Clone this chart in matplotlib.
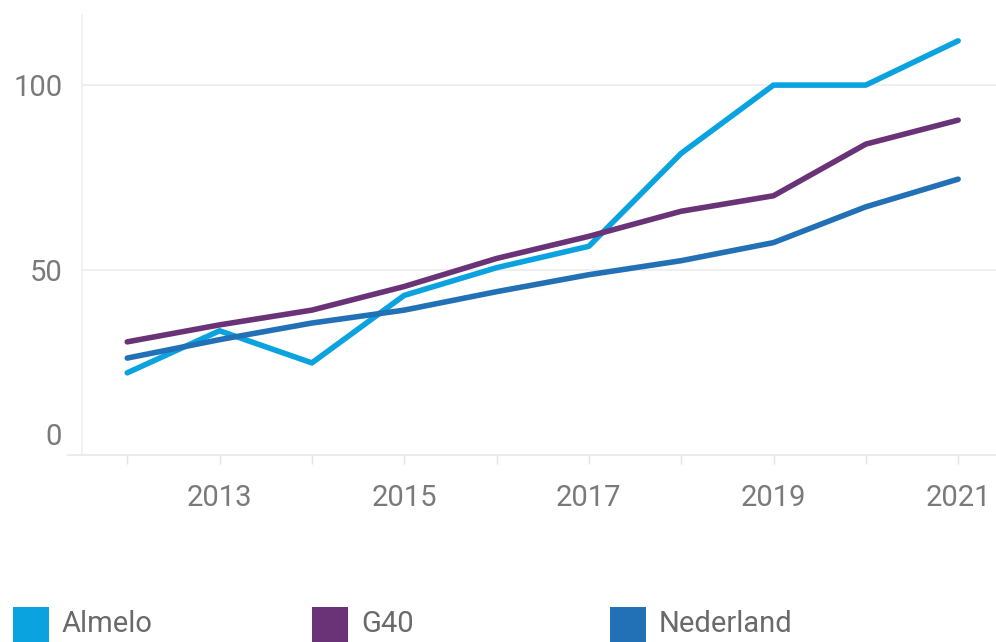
import matplotlib
matplotlib.use("Agg")
import matplotlib.pyplot as plt
from matplotlib.patches import Rectangle
from matplotlib.lines import Line2D

years = [2012, 2013, 2014, 2015, 2016, 2017, 2018, 2019, 2020, 2021]
almelo = [22, 33.4, 24.7, 43, 50.5, 56.3, 81.5, 100, 100, 112]
g40 = [30.4, 35, 39, 45.4, 53, 59, 65.8, 70, 84, 90.5]
nederland = [26, 31, 35.5, 39, 44, 48.6, 52.4, 57.3, 67, 74.5]
series_names = ["Almelo", "G40", "Nederland"]
colors = ["#0aa3e0", "#6a3377", "#2270b5"]
ytick_vals = [50, 100]
xtick_labels = ["2013", "2015", "2017", "2019", "2021"]

plt.rcParams['font.family'] = ['Roboto', 'DejaVu Sans']

W, H = 996, 642
fig = plt.figure(figsize=(W / 100, H / 100), dpi=100)
ax = fig.add_axes([82 / W, 1 - 454 / H, (996 - 82) / W, (454 - 15) / H])

for vals, c in zip([almelo, g40, nederland], colors):
    ax.plot(years, vals, color=c, lw=4.0, solid_capstyle='round', solid_joinstyle='round', zorder=3)

ax.set_xlim(2011.51, 2021.41)
ax.set_ylim(0, 119)

for s in ['top', 'right', 'bottom']:
    ax.spines[s].set_visible(False)
ax.spines['left'].set_color('#f0f0f0')
ax.spines['left'].set_linewidth(1.2)

tick_color = '#7a7a7a'
ax.set_yticks(ytick_vals)
ax.set_yticklabels([str(v) for v in ytick_vals])
ax.yaxis.grid(True, color='#ececec', lw=1.2)
ax.set_axisbelow(True)
ax.tick_params(axis='y', length=0, pad=14, labelsize=21, labelcolor=tick_color)
ax.text(-20 / (996 - 82), 17 / (454 - 15) * 119, "0", transform=ax.get_yaxis_transform(),
        ha='right', va='center', fontsize=21, color=tick_color)

ax.set_xticks(years)
ax.set_xticklabels([str(y) if str(y) in xtick_labels else "" for y in years])
ax.tick_params(axis='x', length=7.5, width=1, color='#e4e4e4', pad=14, labelsize=21, labelcolor=tick_color)

# bottom axis line
fig.add_artist(Line2D([68 / W, 1.0], [1 - 455 / H, 1 - 455 / H], color='#ececec', lw=1.5))

# legend
leg_x = [13, 312, 610]
for name, c, x in zip(series_names, colors, leg_x):
    fig.add_artist(Rectangle((x / W, 0), 36 / W, 35 / H, transform=fig.transFigure,
                             facecolor=c, edgecolor='none'))
    fig.text((x + 49) / W, 1 - 624 / H, name, fontsize=21, color='#6a6a6a', va='center', ha='left')

fig.savefig("out.png", dpi=100)
